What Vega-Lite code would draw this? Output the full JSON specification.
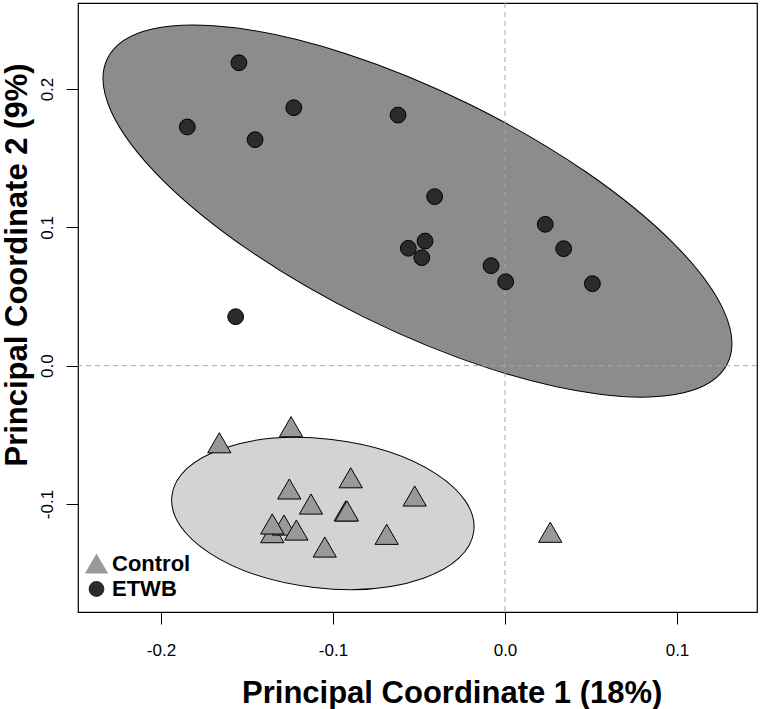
{
  "$schema": "https://vega.github.io/schema/vega-lite/v6.json",
  "width": 679,
  "height": 609,
  "autosize": {"type": "none"},
  "padding": {"left": 78, "top": 3, "right": 4, "bottom": 97},
  "background": "white",
  "config": {
    "font": "Liberation Sans",
    "view": {"stroke": "black", "strokeWidth": 1.2},
    "axis": {
      "grid": false,
      "domain": false,
      "tickColor": "black",
      "tickSize": 12,
      "tickWidth": 1,
      "labelColor": "black",
      "labelFont": "Liberation Sans",
      "labelFontSize": 17,
      "titleFont": "Liberation Sans",
      "titleFontSize": 31,
      "titleFontWeight": "bold",
      "titleColor": "black"
    },
    "axisX": {
      "labelExpr": "datum.value < 0 ? '-' + format(-datum.value, '.1f') : format(datum.value, '.1f')",
      "labelBaseline": "alphabetic",
      "labelPadding": 31,
      "titleX": 373.7,
      "titleY": 90,
      "titleAlign": "center",
      "titleBaseline": "alphabetic"
    },
    "axisY": {
      "labelExpr": "datum.value < 0 ? '-' + format(-datum.value, '.1f') : format(datum.value, '.1f')",
      "labelAngle": 270,
      "labelAlign": "center",
      "labelBaseline": "alphabetic",
      "labelPadding": 14,
      "titleAngle": 270,
      "titleX": -52,
      "titleY": 261.5,
      "titleAlign": "center",
      "titleBaseline": "alphabetic"
    }
  },
  "datasets": {
    "points": [
      {"x": -0.1547, "y": 0.2190, "group": "ETWB"},
      {"x": -0.1228, "y": 0.1865, "group": "ETWB"},
      {"x": -0.1847, "y": 0.1726, "group": "ETWB"},
      {"x": -0.1453, "y": 0.1634, "group": "ETWB"},
      {"x": -0.0622, "y": 0.1812, "group": "ETWB"},
      {"x": -0.0409, "y": 0.1222, "group": "ETWB"},
      {"x": -0.0465, "y": 0.0901, "group": "ETWB"},
      {"x": -0.0562, "y": 0.0849, "group": "ETWB"},
      {"x": -0.0484, "y": 0.0781, "group": "ETWB"},
      {"x": -0.0081, "y": 0.0723, "group": "ETWB"},
      {"x": 0.0004, "y": 0.0607, "group": "ETWB"},
      {"x": 0.0234, "y": 0.1022, "group": "ETWB"},
      {"x": 0.0341, "y": 0.0846, "group": "ETWB"},
      {"x": 0.0508, "y": 0.0593, "group": "ETWB"},
      {"x": -0.1566, "y": 0.0354, "group": "ETWB"},
      {"x": -0.1661, "y": -0.0557, "group": "Control"},
      {"x": -0.1244, "y": -0.0441, "group": "Control"},
      {"x": -0.1254, "y": -0.0891, "group": "Control"},
      {"x": -0.1128, "y": -0.1000, "group": "Control"},
      {"x": -0.0897, "y": -0.0810, "group": "Control"},
      {"x": -0.0926, "y": -0.1050, "group": "Control"},
      {"x": -0.0919, "y": -0.1050, "group": "Control"},
      {"x": -0.1353, "y": -0.1207, "group": "Control"},
      {"x": -0.1285, "y": -0.1152, "group": "Control"},
      {"x": -0.1353, "y": -0.1144, "group": "Control"},
      {"x": -0.1213, "y": -0.1188, "group": "Control"},
      {"x": -0.1048, "y": -0.1311, "group": "Control"},
      {"x": -0.0688, "y": -0.1219, "group": "Control"},
      {"x": -0.0525, "y": -0.0942, "group": "Control"},
      {"x": 0.0263, "y": -0.1204, "group": "Control"}
    ],
    "ellipses": [
      {"x": -0.0509, "y": 0.1118, "group": "ETWB"},
      {"x": -0.1059, "y": -0.1068, "group": "Control"}
    ],
    "refs": [{"x": 0, "y": 0}]
  },
  "layer": [
    {
      "data": {"name": "ellipses"},
      "transform": [{"filter": "datum.group === 'ETWB'"}],
      "mark": {
        "type": "point",
        "shape": "M -1 0 A 1 0.3438 0 1 1 1 0 A 1 0.3438 0 1 1 -1 0 Z",
        "size": 477481,
        "angle": 26.2,
        "filled": true,
        "fill": "#8c8c8c",
        "stroke": "black",
        "strokeWidth": 1,
        "opacity": 1
      },
      "encoding": {
        "x": {"field": "x", "type": "quantitative", "scale": {"domain": [-0.24826, 0.14651], "nice": false, "zero": false}, "title": "Principal Coordinate 1 (18%)", "axis": {"values": [-0.2, -0.1, 0, 0.1]}},
        "y": {"field": "y", "type": "quantitative", "scale": {"domain": [-0.17805, 0.2622], "nice": false, "zero": false}, "title": "Principal Coordinate 2 (9%)", "axis": {"values": [-0.1, 0, 0.1, 0.2]}}
      }
    },
    {
      "data": {"name": "ellipses"},
      "transform": [{"filter": "datum.group === 'Control'"}],
      "mark": {
        "type": "point",
        "shape": "M -1 0 A 1 0.4901 0 1 1 1 0 A 1 0.4901 0 1 1 -1 0 Z",
        "size": 92416,
        "angle": 6.65,
        "filled": true,
        "fill": "#d3d3d3",
        "stroke": "black",
        "strokeWidth": 1,
        "opacity": 1
      },
      "encoding": {
        "x": {"field": "x", "type": "quantitative", "title": "Principal Coordinate 1 (18%)", "axis": {"values": [-0.2, -0.1, 0, 0.1]}},
        "y": {"field": "y", "type": "quantitative", "title": "Principal Coordinate 2 (9%)", "axis": {"values": [-0.1, 0, 0.1, 0.2]}}
      }
    },
    {
      "data": {"name": "refs"},
      "mark": {"type": "rule", "color": "#a6a6a6", "strokeWidth": 1, "strokeDash": [5, 4]},
      "encoding": {
        "x": {"field": "x", "type": "quantitative", "title": "Principal Coordinate 1 (18%)", "axis": {"values": [-0.2, -0.1, 0, 0.1]}}
      }
    },
    {
      "data": {"name": "refs"},
      "mark": {"type": "rule", "color": "#a6a6a6", "strokeWidth": 1, "strokeDash": [5, 4]},
      "encoding": {
        "y": {"field": "y", "type": "quantitative", "title": "Principal Coordinate 2 (9%)", "axis": {"values": [-0.1, 0, 0.1, 0.2]}}
      }
    },
    {
      "data": {"name": "points"},
      "mark": {"type": "point", "filled": true, "stroke": "black", "strokeWidth": 1, "opacity": 1},
      "encoding": {
        "x": {"field": "x", "type": "quantitative", "title": "Principal Coordinate 1 (18%)", "axis": {"values": [-0.2, -0.1, 0, 0.1]}},
        "y": {"field": "y", "type": "quantitative", "title": "Principal Coordinate 2 (9%)", "axis": {"values": [-0.1, 0, 0.1, 0.2]}},
        "shape": {
          "field": "group",
          "type": "nominal",
          "scale": {"domain": ["Control", "ETWB"], "range": ["triangle-up", "circle"]},
          "legend": {
            "title": null,
            "orient": "none",
            "legendX": 6,
            "legendY": 548,
            "padding": 0,
            "labelFont": "Liberation Sans",
            "labelFontSize": 22,
            "labelFontWeight": "bold",
            "labelColor": "black",
            "labelOffset": 3,
            "symbolStrokeColor": "black",
            "symbolStrokeWidth": 1,
            "rowPadding": 2
          }
        },
        "fill": {
          "field": "group",
          "type": "nominal",
          "scale": {"domain": ["Control", "ETWB"], "range": ["#999999", "#2b2b2b"]},
          "legend": {
            "title": null,
            "orient": "none",
            "legendX": 6,
            "legendY": 548,
            "padding": 0,
            "labelFont": "Liberation Sans",
            "labelFontSize": 22,
            "labelFontWeight": "bold",
            "labelColor": "black",
            "labelOffset": 3,
            "symbolStrokeColor": "black",
            "symbolStrokeWidth": 1,
            "rowPadding": 2
          }
        },
        "size": {
          "field": "group",
          "type": "nominal",
          "scale": {"type": "point", "domain": ["Control", "ETWB"], "range": [540, 250], "padding": 0},
          "legend": {
            "title": null,
            "orient": "none",
            "legendX": 6,
            "legendY": 548,
            "padding": 0,
            "labelFont": "Liberation Sans",
            "labelFontSize": 22,
            "labelFontWeight": "bold",
            "labelColor": "black",
            "labelOffset": 3,
            "symbolStrokeColor": "black",
            "symbolStrokeWidth": 1,
            "rowPadding": 2
          }
        }
      }
    }
  ]
}
